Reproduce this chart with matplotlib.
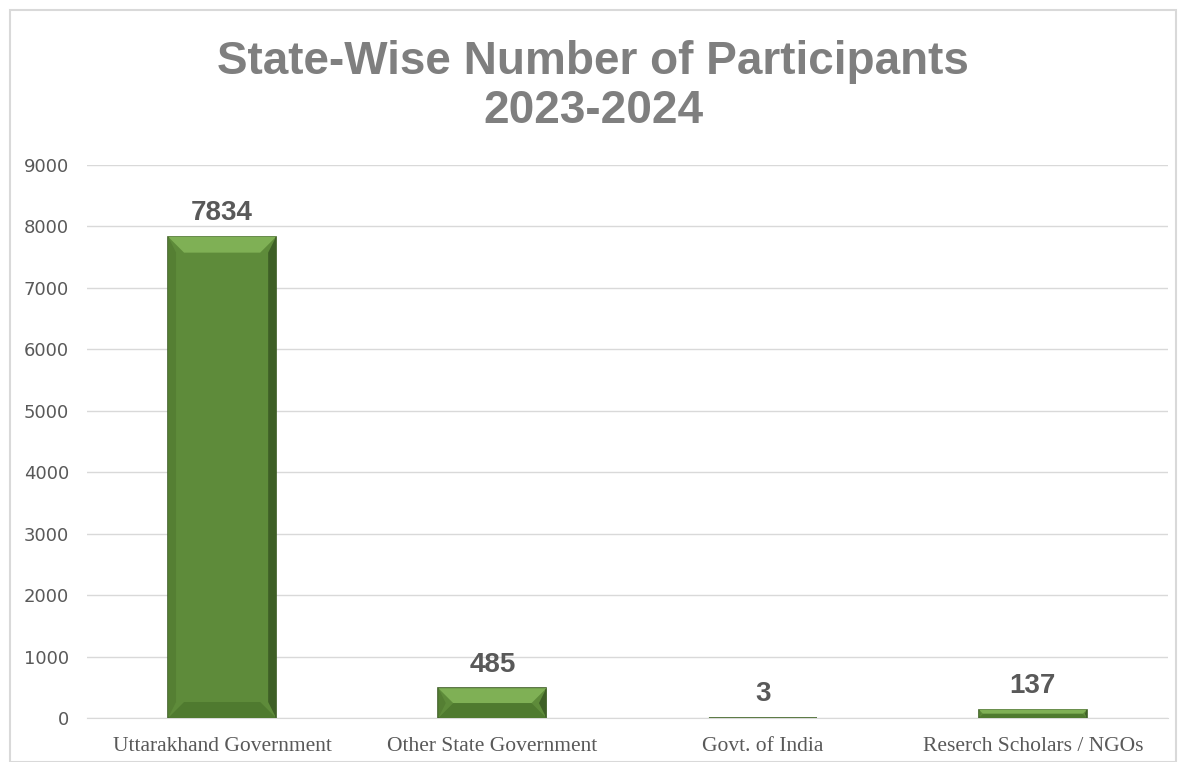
import matplotlib.pyplot as plt
from matplotlib.patches import Polygon
import numpy as np

categories = ['Uttarakhand Government', 'Other State Government', 'Govt. of India', 'Reserch Scholars / NGOs']
participants = [7834, 485, 3, 137]
yticks = [0, 1000, 2000, 3000, 4000, 5000, 6000, 7000, 8000, 9000]

W, H = 1186, 762
fig = plt.figure(figsize=(W / 100, H / 100), dpi=100)
ax = fig.add_axes([87 / W, 44 / H, 1081 / W, 553 / H])

x = np.arange(len(categories))
bars = ax.bar(x, participants, width=0.4, color='#5e8b3a', edgecolor='#3f5f27', linewidth=1.2, zorder=3)

ax.set_xlim(-0.5, 3.5)
ax.set_ylim(0, 9000)

# bevel shading (depth in pixels converted to data units)
dx = 16 / (1081 / 4)
dy = 16 / (553 / 9000)
for b in bars:
    x0, x1 = b.get_x(), b.get_x() + b.get_width()
    top = b.get_height()
    d_y = min(dy, top / 2)
    d_x = min(dx, d_y * dx / dy) if top < 2 * dy else dx
    ax.add_patch(Polygon([(x0, top), (x1, top), (x1 - d_x, top - d_y), (x0 + d_x, top - d_y)],
                         closed=True, color='#7fb055', lw=0, zorder=4))
    ax.add_patch(Polygon([(x0, 0), (x1, 0), (x1 - d_x, d_y), (x0 + d_x, d_y)],
                         closed=True, color='#4f7a2f', lw=0, zorder=4))
    ax.add_patch(Polygon([(x1, 0), (x1, top), (x1 - d_x * 0.5, top - d_y), (x1 - d_x * 0.5, d_y)],
                         closed=True, color='#3e5f26', lw=0, zorder=4))
    ax.add_patch(Polygon([(x0, 0), (x0, top), (x0 + d_x * 0.5, top - d_y), (x0 + d_x * 0.5, d_y)],
                         closed=True, color='#557f33', lw=0, zorder=4))

for b, v in zip(bars, participants):
    ax.text(b.get_x() + b.get_width() / 2, v + 170, str(v), ha='center', va='bottom',
            fontsize=20, fontweight='bold', color='#595959', family='Liberation Sans')

ax.set_yticks(yticks)
ax.set_yticklabels([str(t) for t in yticks], fontsize=13, color='#595959', family='DejaVu Sans')
ax.set_xticks(x)
ax.set_xticklabels(categories, fontsize=15.5, color='#595959', family='Liberation Serif')
ax.tick_params(axis='x', length=0, pad=14)
ax.tick_params(axis='y', length=0, pad=13)
ax.grid(axis='y', color='#d9d9d9', linewidth=1, zorder=0)
for s in ['top', 'right', 'left']:
    ax.spines[s].set_visible(False)
ax.spines['bottom'].set_color('#d9d9d9')

fig.text(0.5, 1 - 62 / H, 'State-Wise Number of Participants', ha='center', va='center',
         fontsize=33, fontweight='bold', color='#7f7f7f', family='Liberation Sans')
fig.text(0.5, 1 - 111 / H, '2023-2024', ha='center', va='center',
         fontsize=33, fontweight='bold', color='#7f7f7f', family='Liberation Sans')

# outer frame
fig.patches.append(plt.Rectangle((10 / W, 0), 1 - 20 / W, 1 - 10 / H, transform=fig.transFigure,
                                 fill=False, edgecolor='#d9d9d9', linewidth=1.5))

fig.savefig('out.png', dpi=100, facecolor='white')
